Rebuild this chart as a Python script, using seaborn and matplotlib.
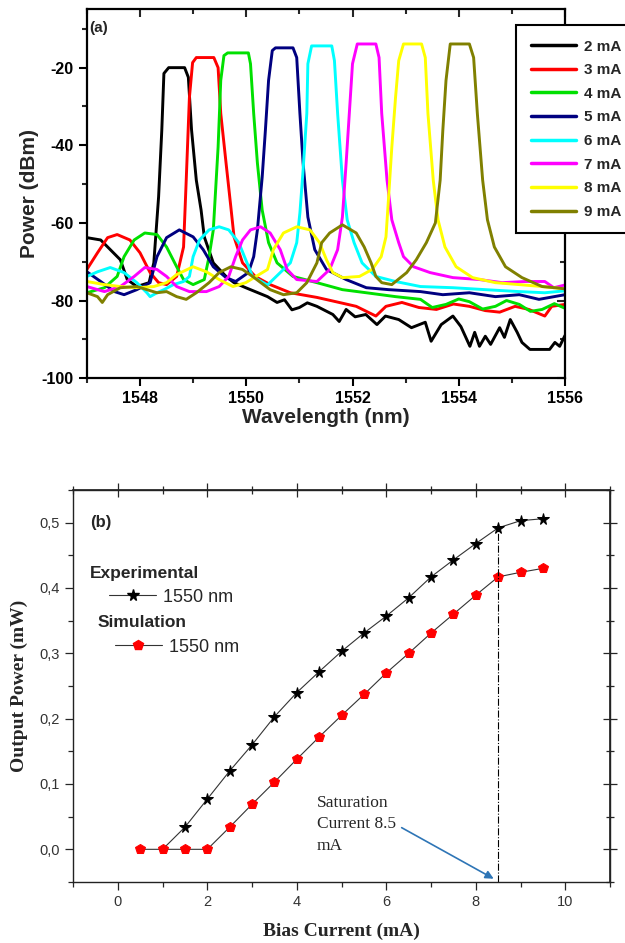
import seaborn as sns
import matplotlib.pyplot as plt
import pandas as pd
from matplotlib.lines import Line2D
from matplotlib.ticker import MultipleLocator, FuncFormatter

# ---------------- panel (a): lasing spectra ----------------
currents_a = ['2 mA', '3 mA', '4 mA', '5 mA', '6 mA', '7 mA', '8 mA', '9 mA']
colors_a = ['#000000', '#ff0000', '#00e000', '#000080', '#00ffff', '#ff00ff', '#ffff00', '#808000']

wl_2mA = [1547.0, 1547.26, 1547.63, 1547.76, 1547.94, 1548.17, 1548.26, 1548.35, 1548.41, 1548.45,
          1548.54, 1548.84, 1548.91, 1548.97, 1549.06, 1549.15, 1549.21, 1549.38, 1549.62, 1549.77,
          1549.99, 1550.4, 1550.58, 1550.72, 1550.86, 1551.0, 1551.15, 1551.33, 1551.63, 1551.75,
          1551.88, 1552.05, 1552.25, 1552.46, 1552.62, 1552.87, 1553.11, 1553.37, 1553.48, 1553.67,
          1553.89, 1554.04, 1554.21, 1554.3, 1554.39, 1554.5, 1554.6, 1554.77, 1554.86, 1554.97,
          1555.1, 1555.19, 1555.34, 1555.71, 1555.81, 1555.9, 1556.0]
p_2mA = [-63.8, -64.4, -69.5, -74.6, -76.4, -75.4, -70.3, -53.3, -36.2, -21.5,
         -20.0, -20.0, -22.5, -36.0, -49.0, -56.7, -63.6, -70.3, -73.8, -75.4,
         -76.7, -79.0, -80.5, -79.8, -82.4, -81.8, -80.6, -81.5, -83.6, -85.4,
         -82.3, -84.2, -83.6, -86.2, -84.0, -84.9, -87.0, -85.6, -90.5, -86.2,
         -84.0, -86.7, -91.8, -88.2, -91.8, -89.2, -91.3, -87.0, -89.5, -84.9,
         -88.2, -90.8, -92.6, -92.6, -90.8, -91.8, -89.0]

wl_3mA = [1547.0, 1547.2, 1547.39, 1547.57, 1547.81, 1548.0, 1548.19, 1548.35, 1548.5, 1548.69,
          1548.82, 1548.87, 1548.93, 1548.99, 1549.06, 1549.39, 1549.47, 1549.52, 1549.62, 1549.71,
          1549.77, 1549.93, 1550.17, 1550.45, 1550.83, 1551.33, 1551.75, 1552.07, 1552.44, 1552.63,
          1552.93, 1553.25, 1553.58, 1553.9, 1554.2, 1554.5, 1554.77, 1555.06, 1555.32, 1555.62,
          1555.75, 1556.0]
p_3mA = [-72.0, -67.7, -63.8, -63.0, -64.4, -67.7, -72.8, -75.4, -75.9, -73.8,
         -66.2, -49.0, -27.7, -18.7, -17.4, -17.4, -20.0, -31.8, -44.6, -55.9,
         -63.6, -70.3, -73.8, -75.9, -78.0, -79.2, -80.5, -81.5, -84.0, -81.5,
         -80.5, -81.8, -82.3, -80.9, -81.5, -82.6, -83.0, -81.5, -82.3, -84.0,
         -81.5, -81.0]

wl_4mA = [1547.0, 1547.33, 1547.57, 1547.7, 1547.89, 1548.09, 1548.32, 1548.5, 1548.69, 1548.82,
          1549.0, 1549.21, 1549.3, 1549.38, 1549.47, 1549.52, 1549.58, 1549.65, 1550.04, 1550.08,
          1550.14, 1550.21, 1550.3, 1550.42, 1550.58, 1550.88, 1551.33, 1551.81, 1552.26, 1552.81,
          1553.28, 1553.5, 1553.76, 1554.0, 1554.2, 1554.45, 1554.69, 1554.9, 1555.14, 1555.35,
          1555.57, 1555.8, 1556.0]
p_4mA = [-78.0, -76.7, -73.8, -68.7, -64.4, -62.6, -63.0, -66.2, -71.3, -74.6,
         -75.9, -74.6, -68.7, -61.8, -40.5, -23.3, -16.9, -16.2, -16.2, -19.0,
         -31.8, -44.6, -56.7, -65.1, -70.3, -73.8, -75.4, -77.2, -78.0, -79.0,
         -79.7, -81.8, -81.0, -79.6, -80.3, -82.2, -81.5, -80.0, -81.0, -82.8,
         -82.3, -80.8, -82.0]

wl_5mA = [1547.0, 1547.26, 1547.52, 1547.7, 1547.94, 1548.19, 1548.32, 1548.5, 1548.74, 1549.0,
          1549.19, 1549.38, 1549.62, 1549.8, 1550.04, 1550.14, 1550.21, 1550.3, 1550.36, 1550.42,
          1550.49, 1550.55, 1550.88, 1550.95, 1551.01, 1551.07, 1551.16, 1551.29, 1551.51, 1551.88,
          1552.26, 1552.68, 1553.28, 1553.7, 1554.2, 1554.69, 1555.14, 1555.51, 1556.0]
p_5mA = [-72.6, -75.1, -77.7, -78.5, -77.2, -75.4, -68.7, -63.8, -61.8, -63.6,
         -66.9, -71.3, -74.1, -75.1, -72.8, -68.7, -61.8, -48.2, -36.2, -23.3,
         -15.6, -14.9, -14.9, -17.4, -31.8, -44.6, -58.5, -66.9, -72.0, -74.6,
         -76.7, -77.2, -77.7, -78.5, -78.0, -79.0, -78.5, -79.7, -78.5]

wl_6mA = [1547.0, 1547.2, 1547.44, 1547.7, 1547.94, 1548.13, 1548.19, 1548.32, 1548.45, 1548.63,
          1548.82, 1548.93, 1549.0, 1549.12, 1549.3, 1549.49, 1549.67, 1549.86, 1549.99, 1550.12,
          1550.4, 1550.7, 1550.83, 1550.95, 1551.01, 1551.07, 1551.14, 1551.16, 1551.23, 1551.61,
          1551.66, 1551.72, 1551.81, 1551.9, 1552.03, 1552.18, 1552.44, 1552.81, 1553.28, 1553.89,
          1554.5, 1555.14, 1555.62, 1556.0]
p_6mA = [-73.8, -72.6, -71.5, -72.8, -75.4, -78.0, -79.0, -78.0, -77.2, -75.9,
         -75.1, -73.8, -68.7, -64.4, -61.8, -61.0, -61.8, -65.1, -69.5, -73.8,
         -76.0, -72.0, -70.3, -65.1, -57.4, -46.4, -31.8, -19.0, -14.4, -14.4,
         -18.2, -31.8, -49.0, -59.2, -65.1, -70.3, -73.8, -75.1, -76.4, -76.7,
         -77.2, -77.7, -78.0, -77.5]

wl_7mA = [1547.0, 1547.33, 1547.63, 1547.89, 1548.09, 1548.32, 1548.5, 1548.69, 1548.93, 1549.25,
          1549.49, 1549.67, 1549.8, 1549.93, 1550.08, 1550.27, 1550.45, 1550.64, 1550.77, 1550.95,
          1551.33, 1551.57, 1551.72, 1551.81, 1551.88, 1551.94, 1552.0, 1552.09, 1552.44, 1552.5,
          1552.55, 1552.65, 1552.74, 1552.87, 1552.96, 1553.15, 1553.46, 1553.89, 1554.39, 1554.82,
          1555.25, 1555.62, 1555.79, 1556.0]
p_7mA = [-76.4, -77.7, -76.4, -73.8, -71.5, -72.0, -73.8, -76.4, -77.7, -77.7,
         -76.4, -73.8, -68.7, -64.4, -61.8, -61.0, -62.6, -66.9, -72.0, -74.6,
         -75.1, -72.0, -66.9, -58.5, -44.6, -31.8, -19.0, -13.9, -13.9, -17.4,
         -31.8, -49.0, -59.2, -65.1, -68.7, -71.3, -72.8, -74.1, -74.6, -75.4,
         -75.1, -75.1, -76.7, -76.0]

wl_8mA = [1547.0, 1547.33, 1547.63, 1547.94, 1548.26, 1548.5, 1548.69, 1549.0, 1549.25, 1549.49,
          1549.75, 1549.99, 1550.4, 1550.51, 1550.7, 1550.95, 1551.2, 1551.38, 1551.51, 1551.63,
          1551.81, 1552.13, 1552.37, 1552.54, 1552.63, 1552.68, 1552.74, 1552.81, 1552.87, 1552.96,
          1553.3, 1553.37, 1553.42, 1553.52, 1553.61, 1553.74, 1553.95, 1554.26, 1554.69, 1555.14,
          1555.57, 1556.0]
p_8mA = [-75.1, -75.9, -76.4, -76.7, -76.4, -75.4, -73.3, -71.3, -72.6, -74.6,
         -76.4, -75.4, -72.0, -66.9, -62.6, -61.0, -61.8, -65.1, -69.5, -72.8,
         -74.1, -73.8, -72.0, -68.7, -63.6, -53.3, -40.5, -27.7, -18.2, -13.9,
         -13.9, -17.4, -31.8, -49.0, -59.2, -66.2, -71.3, -74.1, -75.4, -75.9,
         -76.4, -77.0]

wl_9mA = [1547.0, 1547.2, 1547.29, 1547.39, 1547.63, 1547.94, 1548.13, 1548.32, 1548.5, 1548.69,
          1548.87, 1549.06, 1549.3, 1549.49, 1549.71, 1549.93, 1550.12, 1550.45, 1550.7, 1550.95,
          1551.14, 1551.33, 1551.42, 1551.57, 1551.81, 1552.07, 1552.22, 1552.35, 1552.44, 1552.55,
          1552.74, 1553.02, 1553.2, 1553.39, 1553.56, 1553.65, 1553.7, 1553.76, 1553.84, 1554.2,
          1554.28, 1554.35, 1554.45, 1554.54, 1554.67, 1554.88, 1555.19, 1555.57, 1555.81, 1556.0]
p_9mA = [-78.0, -79.0, -80.5, -78.5, -76.7, -76.4, -77.2, -78.0, -77.7, -79.0,
         -79.7, -78.0, -75.4, -72.8, -71.3, -72.0, -73.8, -77.2, -78.5, -78.0,
         -75.4, -70.3, -65.1, -62.6, -60.5, -62.6, -66.2, -70.3, -73.8, -75.4,
         -75.9, -72.8, -69.5, -65.1, -60.0, -49.0, -36.2, -23.3, -13.9, -13.9,
         -17.4, -31.8, -49.0, -59.2, -66.2, -71.3, -74.1, -76.4, -76.7, -77.0]

spectra_wl = [wl_2mA, wl_3mA, wl_4mA, wl_5mA, wl_6mA, wl_7mA, wl_8mA, wl_9mA]
spectra_p = [p_2mA, p_3mA, p_4mA, p_5mA, p_6mA, p_7mA, p_8mA, p_9mA]

# ---------------- panel (b): output power vs bias ----------------
bias_exp = [1.0, 1.5, 2.0, 2.5, 3.0, 3.5, 4.0, 4.5, 5.0, 5.5, 6.0, 6.5, 7.0, 7.5, 8.0, 8.5, 9.0, 9.5]
power_exp = [0.0, 0.034, 0.077, 0.12, 0.16, 0.203, 0.24, 0.272, 0.303, 0.331, 0.357, 0.385,
             0.417, 0.443, 0.468, 0.492, 0.503, 0.506]
bias_sim = [0.5, 1.0, 1.5, 2.0, 2.5, 3.0, 3.5, 4.0, 4.5, 5.0, 5.5, 6.0, 6.5, 7.0, 7.5, 8.0, 8.5, 9.0, 9.5]
power_sim = [0.0, 0.0, 0.0, 0.0, 0.034, 0.069, 0.103, 0.138, 0.172, 0.205, 0.237, 0.27, 0.30,
             0.331, 0.36, 0.389, 0.417, 0.424, 0.43]
sat_current = 8.5

sns.set_theme(style='ticks')
plt.rcParams['font.family'] = ['Liberation Sans', 'DejaVu Sans']
plt.rcParams['axes.unicode_minus'] = False

fig = plt.figure(figsize=(6.25, 9.43), dpi=100)
ax_a = fig.add_axes([0.139, 0.599, 0.765, 0.391])
ax_b = fig.add_axes([0.117, 0.0647, 0.859, 0.4157])

# long table for seaborn
rows = []
for label, wl, p in zip(currents_a, spectra_wl, spectra_p):
    rows += [{'Wavelength': w, 'Power': v, 'Current': label} for w, v in zip(wl, p)]
df_a = pd.DataFrame(rows)

sns.lineplot(data=df_a, x='Wavelength', y='Power', hue='Current', hue_order=currents_a,
             palette=colors_a, estimator=None, sort=False, lw=2.1, legend=False, ax=ax_a)

ax_a.set_xlim(1547, 1556)
ax_a.set_ylim(-100, -5)
ax_a.xaxis.set_major_locator(MultipleLocator(2))
ax_a.xaxis.set_minor_locator(MultipleLocator(1))
ax_a.yaxis.set_major_locator(MultipleLocator(20))
ax_a.yaxis.set_minor_locator(MultipleLocator(10))
ax_a.tick_params(which='major', direction='out', length=6, width=1.5, top=False, right=False,
                 labelsize=11.5, colors='black')
ax_a.tick_params(which='minor', direction='out', length=3.5, width=1.5, top=False, right=False)
for lab in ax_a.get_xticklabels() + ax_a.get_yticklabels():
    lab.set_fontweight('bold')
for sp in ax_a.spines.values():
    sp.set_linewidth(1.6)
    sp.set_color('black')
ax_a.set_xlabel('Wavelength (nm)', fontsize=15, fontweight='bold', labelpad=1)
ax_a.set_ylabel('Power (dBm)', fontsize=15, fontweight='bold', labelpad=2)
ax_a.text(0.006, 0.95, '(a)', transform=ax_a.transAxes, fontsize=11, fontweight='bold', va='center')

top_a = ax_a.secondary_xaxis('top')
top_a.xaxis.set_major_locator(MultipleLocator(2))
top_a.xaxis.set_minor_locator(MultipleLocator(1))
top_a.tick_params(which='both', direction='in', width=1.5, labeltop=False)
top_a.tick_params(which='major', length=6)
top_a.tick_params(which='minor', length=3.5)
right_a = ax_a.secondary_yaxis('right')
right_a.yaxis.set_major_locator(MultipleLocator(20))
right_a.yaxis.set_minor_locator(MultipleLocator(10))
right_a.tick_params(which='both', direction='in', width=1.5, labelright=False)
right_a.tick_params(which='major', length=6)
right_a.tick_params(which='minor', length=3.5)

handles_a = [Line2D([], [], color=c, lw=2.5) for c in colors_a]
leg_a = ax_a.legend(handles_a, currents_a, loc='upper left', bbox_to_anchor=(516 / 625, 1 - 25 / 943),
                    bbox_transform=fig.transFigure, frameon=True, fancybox=False, framealpha=1,
                    edgecolor='black', prop={'weight': 'bold', 'size': 11}, handlelength=3.0,
                    handletextpad=0.5, labelspacing=0.63, borderpad=0.95, borderaxespad=0)
leg_a.get_frame().set_linewidth(1.5)

# ---- panel (b) ----
sns.lineplot(x=bias_exp, y=power_exp, ax=ax_b, color='#333333', lw=0.8, marker='*', markersize=8.5,
             markerfacecolor='black', markeredgecolor='black', markevery=list(range(1, len(bias_exp))))
sns.lineplot(x=bias_sim, y=power_sim, ax=ax_b, color='#333333', lw=0.8, marker='p', markersize=7,
             markerfacecolor='#ff0000', markeredgecolor='#ff0000')
ax_b.vlines(sat_current, -0.05, power_exp[bias_exp.index(sat_current)], colors='black',
            linestyles='-.', lw=0.8)

ax_b.annotate('Saturation\nCurrent 8.5\nmA', xy=(8.4, -0.045), xytext=(4.45, 0.038),
              ha='left', va='center', fontfamily='Liberation Serif', fontsize=12.5, linespacing=1.45,
              arrowprops=dict(arrowstyle='-|>', color='#2e75b6', lw=1.2, relpos=(1, 0.5),
                              shrinkA=2, shrinkB=0, mutation_scale=12))

ax_b.set_xlim(-1, 11)
ax_b.set_ylim(-0.05, 0.55)
ax_b.xaxis.set_major_locator(MultipleLocator(2))
ax_b.xaxis.set_minor_locator(MultipleLocator(1))
ax_b.yaxis.set_major_locator(MultipleLocator(0.1))
ax_b.yaxis.set_minor_locator(MultipleLocator(0.05))
ax_b.yaxis.set_major_formatter(FuncFormatter(lambda v, pos: f'{v:.1f}'.replace('.', ',')))
ax_b.tick_params(which='major', direction='out', length=6, width=0.9, top=False, right=False,
                 labelsize=10.5, labelcolor='#333333')
ax_b.tick_params(which='minor', direction='out', length=3.5, width=0.9, top=False, right=False)
for sp in ax_b.spines.values():
    sp.set_linewidth(1.0)
    sp.set_color('#222222')
ax_b.set_xlabel('Bias Current (mA)', fontsize=14, fontweight='bold', family='Liberation Serif', labelpad=10)
ax_b.set_ylabel('Output Power (mW)', fontsize=14, fontweight='bold', family='Liberation Serif', labelpad=8)

top_b = ax_b.secondary_xaxis('top')
top_b.xaxis.set_major_locator(MultipleLocator(2))
top_b.xaxis.set_minor_locator(MultipleLocator(1))
top_b.tick_params(which='both', direction='inout', width=0.9, labeltop=False)
top_b.tick_params(which='major', length=10)
top_b.tick_params(which='minor', length=6)
right_b = ax_b.secondary_yaxis('right')
right_b.yaxis.set_major_locator(MultipleLocator(0.1))
right_b.yaxis.set_minor_locator(MultipleLocator(0.05))
right_b.tick_params(which='both', direction='inout', width=0.9, labelright=False)
right_b.tick_params(which='major', length=10)
right_b.tick_params(which='minor', length=6)

ax_b.text(0.032, 0.916, '(b)', transform=ax_b.transAxes, fontsize=12, fontweight='bold', va='center')
ax_b.text(0.032, 0.788, 'Experimental', transform=ax_b.transAxes, fontsize=12.5, fontweight='bold', va='center')
ax_b.text(0.045, 0.663, 'Simulation', transform=ax_b.transAxes, fontsize=12.5, fontweight='bold', va='center')

h_exp = Line2D([], [], color='#333333', lw=0.8, marker='*', markersize=8.5, mfc='black', mec='black')
h_sim = Line2D([], [], color='#333333', lw=0.8, marker='p', markersize=7, mfc='#ff0000', mec='#ff0000')
leg_exp = ax_b.legend([h_exp], ['1550 nm'], loc='center left', bbox_to_anchor=(0.067, 0.727),
                      frameon=False, handlelength=2.6, handletextpad=0.4, borderpad=0,
                      borderaxespad=0, prop={'size': 13})
ax_b.add_artist(leg_exp)
ax_b.legend([h_sim], ['1550 nm'], loc='center left', bbox_to_anchor=(0.078, 0.599),
            frameon=False, handlelength=2.6, handletextpad=0.4, borderpad=0,
            borderaxespad=0, prop={'size': 13})

plt.savefig('out.png', dpi=100)
